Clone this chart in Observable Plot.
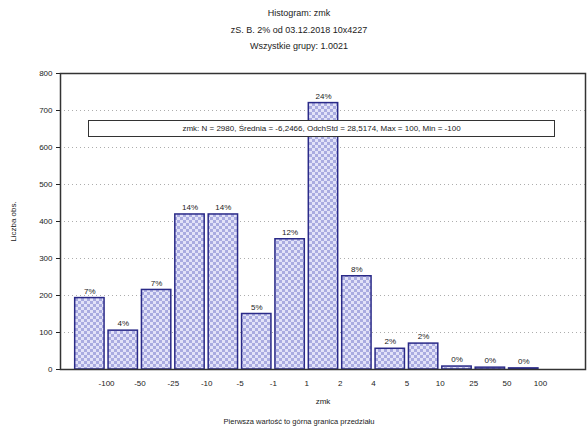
<!DOCTYPE html>
<html><head><meta charset="utf-8">
<script src="https://cdn.jsdelivr.net/npm/d3@7"></script>
<script src="https://cdn.jsdelivr.net/npm/@observablehq/plot@0.6"></script>
<style>
body{margin:0;background:#fff;font-family:"Liberation Sans",Arial,sans-serif;color:#222;}
#wrap{position:relative;width:588px;height:432px;overflow:hidden;}
#title{text-align:center;font-size:9px;line-height:16.5px;padding-top:5px;height:53px;padding-left:10px;box-sizing:content-box;}
#box{position:absolute;left:88px;top:120px;width:465px;height:15px;border:1px solid #333;background:#fff;font-size:8px;line-height:15px;text-align:center;white-space:nowrap;}
#caption{text-align:center;font-size:7.5px;line-height:20px;padding-left:10px;}
svg{display:block;}
</style>
</head><body>
<div id="wrap">
<div id="title">Histogram: zmk<br>zS. B. 2% od 03.12.2018 10x4227<br>Wszystkie grupy: 1.0021</div>
<div id="chart"></div>
<div id="caption">Pierwsza wartość to górna granica przedziału</div>
<div id="box">zmk: N = 2980, Średnia = -6,2466, OdchStd = 28,5174, Max = 100, Min = -100</div>
</div>
<script>
// bin boundary tick labels
const boundaryLabels = ["-100","-50","-25","-10","-5","-1","1","2","4","5","10","25","50","100"];
// counts per bar (15 bins)
const counts = [193,105,215,419,419,150,352,720,252,56,70,8,5,3,0];
const yTicks = [0,100,200,300,400,500,600,700,800];

const total = d3.sum(counts);
const bars = counts.map((c,i)=>({i, count:c, pct: d3.format(".0%")(c/total)}));
const labelled = bars.filter(d=>d.count>0);
const xTicks = boundaryLabels.map((_,i)=>i+0.5);

const chart = Plot.plot({
  width:588, height:354,
  marginLeft:60, marginRight:3, marginTop:15, marginBottom:43,
  style:{fontFamily:"Liberation Sans, Arial, sans-serif", fontSize:"8px", color:"#222"},
  x:{domain:[-0.88,14.85]},
  y:{domain:[0,800]},
  marks:[
    Plot.gridY(yTicks,{stroke:"#777", strokeOpacity:0.6, strokeDasharray:"1,3"}),
    Plot.rectY(bars,{x1:d=>d.i-0.44, x2:d=>d.i+0.44, y:"count", fill:"#c4c4ee", stroke:"#2a2a88", strokeWidth:1.5}),
    Plot.text(labelled,{x:"i", y:"count", text:"pct", dy:-7, fontSize:8, fill:"#222"}),
    Plot.axisY(yTicks,{tickSize:4, tickPadding:4, label:"Liczba obs.", labelAnchor:"center", labelArrow:"none", labelOffset:50, fontSize:8}),
    Plot.axisX(xTicks,{tickSize:0, tickPadding:11, tickFormat:d=>boundaryLabels[Math.round(d-0.5)], label:"zmk", labelAnchor:"center", labelArrow:"none", labelOffset:34, fontSize:8}),
    Plot.frame({stroke:"#333", strokeWidth:1.5})
  ]
});
document.getElementById("chart").appendChild(chart);

// checkered fill pattern for bars
const ns = "http://www.w3.org/2000/svg";
const defs = document.createElementNS(ns,"defs");
defs.innerHTML = '<pattern id="pat" width="6" height="6" patternUnits="userSpaceOnUse">'+
  '<rect width="6" height="6" fill="#a9abe0"/>'+
  '<rect width="3" height="3" fill="#e2e2f8"/>'+
  '<rect x="3" y="3" width="3" height="3" fill="#e2e2f8"/></pattern>';
chart.insertBefore(defs, chart.firstChild);
chart.querySelectorAll('g[aria-label="rect"] rect').forEach(r=>r.setAttribute("fill","url(#pat)"));
</script>
</body></html>
